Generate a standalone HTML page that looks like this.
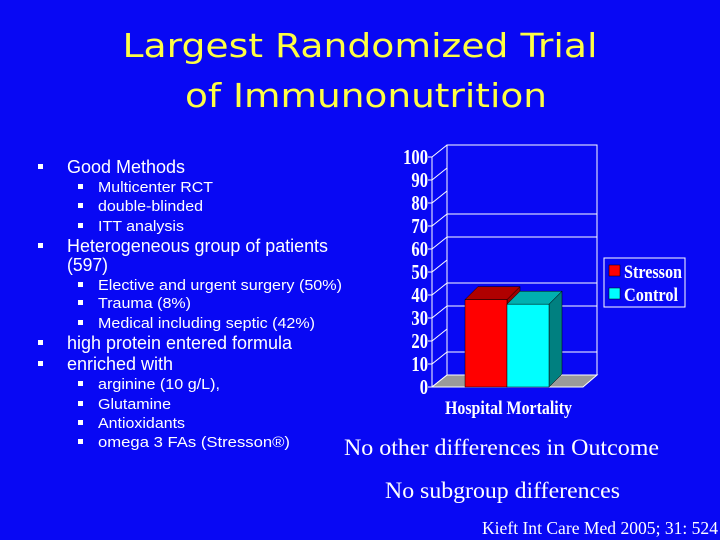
<!DOCTYPE html>
<html><head><meta charset="utf-8"><style>
html,body{margin:0;padding:0;background:#0808f4;}
svg{display:block}
.b{font-family:"Liberation Sans",sans-serif;fill:#fff}
.t{font-family:"Liberation Serif",serif;fill:#fff}
</style></head><body>
<svg width="720" height="540" viewBox="0 0 720 540">
<rect width="720" height="540" fill="#0808f4"/>
<g font-family="'DejaVu Sans',sans-serif" fill="#ffff44" font-size="33" text-anchor="middle">
<text x="360" y="57" textLength="475" lengthAdjust="spacingAndGlyphs">Largest Randomized Trial</text>
<text x="366" y="107" textLength="362" lengthAdjust="spacingAndGlyphs">of Immunonutrition</text>
</g>
<g id="bl"></g>
<g id="chart"></g>
<g>
<rect x="604" y="258" width="81" height="49" fill="none" stroke="#fff" stroke-width="1"/>
<rect x="609" y="265" width="11" height="11" fill="#ff0000" stroke="#000" stroke-width="0.5"/>
<text class="t" x="624" y="278" font-size="19" font-weight="bold" textLength="58" lengthAdjust="spacingAndGlyphs">Stresson</text>
<rect x="609" y="288" width="11" height="11" fill="#00ffff" stroke="#000" stroke-width="0.5"/>
<text class="t" x="624" y="301" font-size="19" font-weight="bold" textLength="54" lengthAdjust="spacingAndGlyphs">Control</text>
</g>
<text class="t" x="445" y="414" font-size="19" font-weight="bold" textLength="127" lengthAdjust="spacingAndGlyphs">Hospital Mortality</text>
<text class="t" x="344" y="455" font-size="23" textLength="315" lengthAdjust="spacingAndGlyphs">No other differences in Outcome</text>
<text class="t" x="385" y="498" font-size="23" textLength="235" lengthAdjust="spacingAndGlyphs">No subgroup differences</text>
<text class="t" x="482" y="534" font-size="18" textLength="236" lengthAdjust="spacingAndGlyphs">Kieft Int Care Med 2005; 31: 524</text>
</svg>
<script>
const categories=["Hospital Mortality"];
const seriesNames=["Stresson","Control"];
const stressonValues=[38];
const controlValues=[36];
const yTicks=[0,10,20,30,40,50,60,70,80,90,100];
const visibleGrid=[10,30,40,60,70,100];
const NS="http://www.w3.org/2000/svg";
const chart=document.getElementById('chart');
function mk(tag,attrs,parent){const e=document.createElementNS(NS,tag);for(const k in attrs)e.setAttribute(k,attrs[k]);(parent||chart).appendChild(e);return e;}
const fx0=432,fy0=387,dx=15,dy=-12,scale=2.3;
function yF(v){return fy0-v*scale;}
let w=mk('path',{d:`M${fx0+dx} ${yF(0)+dy} V${yF(100)+dy} H597 V${yF(0)+dy}`,fill:'none',stroke:'#fff','stroke-width':1});

yTicks.forEach(v=>{
 if(visibleGrid.includes(v)){let g=mk('line',{x1:fx0+dx,x2:597,y1:yF(v)+dy,y2:yF(v)+dy,stroke:'#fff','stroke-width':1});
 }
 let d=mk('line',{x1:fx0,y1:yF(v),x2:fx0+dx,y2:yF(v)+dy,stroke:'#fff','stroke-width':1});
 
 let tk=mk('line',{x1:fx0-4,x2:fx0,y1:yF(v),y2:yF(v),stroke:'#fff'});
 
 const s=String(v);
 let t=mk('text',{x:fx0-4,y:yF(v)+7,'font-size':21,'font-weight':'bold','text-anchor':'end',class:'t',textLength:s.length*8.3,lengthAdjust:'spacingAndGlyphs'});
 t.textContent=s;
 
});
let ax=mk('line',{x1:fx0,x2:fx0,y1:yF(0),y2:yF(100),stroke:'#fff'});

let fl=mk('path',{d:`M${fx0} ${fy0} L${fx0+dx} ${fy0+dy} H597 L583 ${fy0} Z`,fill:'#9a9a9a',stroke:'#fff','stroke-width':1});

const bw=42,bx0=465,bd=13;
const cols=[["#ff0000","#b00000","#a00000"],["#00ffff","#00b0b0","#008080"]];
[stressonValues,controlValues].forEach((vals,s)=>{
 const v=vals[0];const x=bx0+s*bw;const yt=yF(v);const c=cols[s];
 let side=mk('path',{d:`M${x+bw} ${fy0} V${yt} l${bd} ${-bd} V${fy0-bd} Z`,fill:c[2],stroke:'#000','stroke-width':0.5});
 
 let top=mk('path',{d:`M${x} ${yt} l${bd} ${-bd} h${bw} l${-bd} ${bd} Z`,fill:c[1],stroke:'#000','stroke-width':0.5});
 
 let f=mk('rect',{x:x,y:yt,width:bw,height:fy0-yt,fill:c[0],stroke:'#000','stroke-width':0.5});
 
});
const bl=document.getElementById('bl');
const items=[[0,"Good Methods",167,118],[1,"Multicenter RCT",187,115],[1,"double-blinded",206,105],[1,"ITT analysis",226,86],[0,"Heterogeneous group of patients",246,261],[2,"(597)",265,41],[1,"Elective and urgent surgery (50%)",285,244],[1,"Trauma (8%)",303,93],[1,"Medical including septic (42%)",323,217],[0,"high protein entered formula",343,225],[0,"enriched with",364,106],[1,"arginine (10 g/L),",384,122],[1,"Glutamine",404,73],[1,"Antioxidants",423,87],[1,"omega 3 FAs  (Stresson®)",442,192]];
items.forEach(([lv,txt,y,len])=>{
 const big=lv!==1;
 if(lv!==2){let r=mk('rect',{x:lv===0?38:78,y:y-3,width:5,height:5,fill:'#fff'},bl);
 }
 let t=mk('text',{x:lv===1?98:67,y:y+(big?6:5),'font-size':big?18:15,class:'b',textLength:len,lengthAdjust:'spacingAndGlyphs'},bl);
 t.textContent=txt;
 
});
</script>
</body></html>
